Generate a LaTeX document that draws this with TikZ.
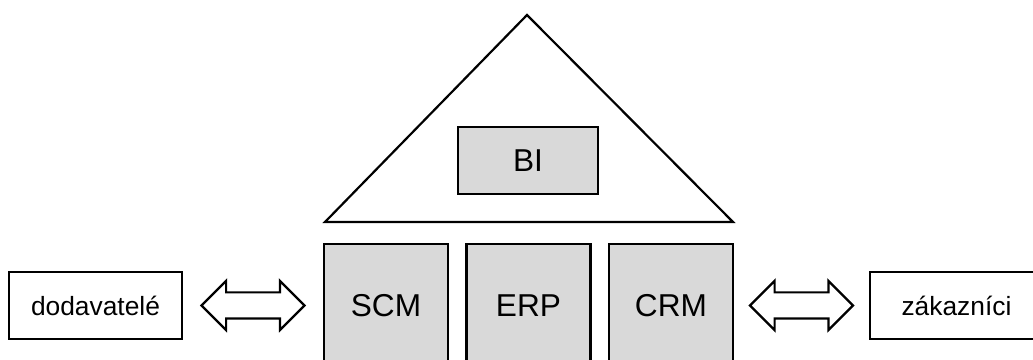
\documentclass[tikz,border=0pt]{standalone}
\usepackage{fontspec}
\setmainfont{Liberation Sans}
\usetikzlibrary{shapes.arrows}
\definecolor{boxgray}{RGB}{217,217,217}
\tikzset{
	outer/.style={draw, line width=1.25pt, minimum width=3.46cm, minimum height=1.34cm, font=\fontsize{15}{18}\selectfont},
	module/.style={draw, line width=1.25pt, fill=boxgray, minimum width=2.48cm, minimum height=2.46cm, font=\fontsize{18}{21}\selectfont},
	link/.style={draw, line width=1.25pt, double arrow, double arrow head extend=0.23cm, inner xsep=0pt, inner ysep=0.24cm, minimum height=2.06cm}
}

\begin{document}
\begin{tikzpicture}
			%%%%% START %%%%%
			
			\useasboundingbox (0, 0) rectangle (20.66, 7.2);
			\clip (0, 0) rectangle (20.66, 7.2);
			
			\draw[line width=1.25pt] (6.50, 2.76) -- (10.54, 6.90) -- (14.66, 2.76) -- cycle;
			\node[module, minimum width=2.8cm, minimum height=1.34cm] (bi) at (10.56, 3.99) {BI};
			
			\node[module] (scm) at (7.72, 1.09) {SCM};
			\node[module] (erp) at (10.57, 1.09) {ERP};
			\node[module] (crm) at (13.42, 1.09) {CRM};
			
			\node[outer] (dod) at (1.91, 1.09) {dodavatelé};
			\node[outer] (zak) at (19.13, 1.09) {zákazníci};
			
			\path (dod.east) -- (scm.west) node[midway, link] (dodlink) {};
			\path (crm.east) -- (zak.west) node[midway, link] (zaklink) {};
			
			%%%%% END %%%%%
\end{tikzpicture}
\end{document}
